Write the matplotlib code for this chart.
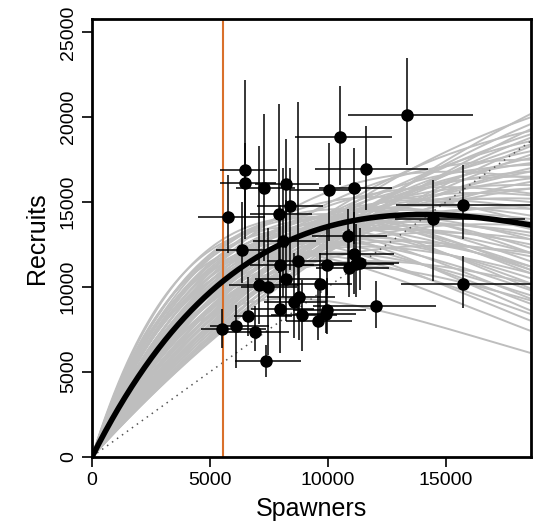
import numpy as np
import matplotlib
matplotlib.use('Agg')
import matplotlib.pyplot as plt

plt.rcParams['font.family'] = ['Liberation Sans', 'DejaVu Sans']

# observed spawners / recruits with interval ends
spawners = [5500, 5763, 6113, 6347, 6463, 6478, 6595, 6900, 7076, 7295,
            7368, 7456, 7908, 7981, 7981, 8083, 8200, 8200, 8390, 8565,
            8725, 8754, 8900, 9571, 9673, 9921, 9950, 9950, 10023, 10505,
            10826, 10899, 11118, 11118, 11190, 11350, 11600, 12040, 13335, 14430,
            15710, 15740]
recruits = [7540, 14140, 7675, 12180, 16880, 16150, 8300, 7320, 10120, 15840,
            5620, 9966, 14310, 8690, 11300, 12730, 16050, 10450, 14760, 9085,
            11530, 9380, 8360, 7970, 10200, 8380, 11300, 8654, 15740, 18840,
            13020, 11100, 15800, 11945, 11340, 11430, 16940, 8850, 20110, 14000,
            14840, 10200]
s_lo = [4620, 4480, 5000, 5250, 5400, 5400, 6010, 5570, 5790, 6100,
        6070, 6300, 6700, 6750, 6700, 6800, 6900, 6900, 7000, 7300,
        7400, 7400, 7600, 8200, 8300, 8600, 8500, 8500, 8400, 8600,
        9300, 9500, 9600, 9600, 9700, 9800, 9440, 9370, 10830, 12840,
        12870, 13100]
s_hi = [7350, 7330, 7500, 7620, 7830, 7800, 8490, 8345, 8780, 8600,
        8850, 8700, 9300, 9400, 9400, 9500, 9600, 9700, 9800, 9900,
        10100, 10300, 10400, 11000, 11000, 11200, 11500, 11600, 11400, 12720,
        12500, 12600, 12700, 12800, 12800, 13000, 14250, 14590, 16150, 18340,
        19000, 19000]
r_lo = [6370, 11980, 5250, 10220, 13400, 12800, 7100, 6200, 7800, 11500,
        4700, 6000, 10800, 6100, 8500, 9400, 12300, 8000, 11000, 7000,
        8200, 6900, 6200, 6900, 8100, 7300, 9500, 7200, 12700, 16000,
        10100, 9400, 12500, 9600, 9400, 9800, 14530, 7580, 17170, 10320,
        12800, 8750]
r_hi = [8720, 16580, 8950, 15020, 22200, 18500, 10600, 8850, 18300, 20200,
        6600, 13500, 20800, 11500, 14800, 17000, 18700, 15100, 17000, 12000,
        20900, 11200, 10400, 9900, 12000, 10300, 13500, 10500, 18500, 21870,
        14600, 13400, 18200, 14400, 13700, 13500, 19460, 10320, 23500, 16290,
        17210, 11830]

# posterior curves read as recruits at S=5535 and at S=18600
draw_r_left = [12800, 12600, 12400, 12200, 12000, 11900, 11800, 11600, 11500, 11400,
               11300, 11200, 11100, 11000, 10900, 10800, 10700, 10600, 10500, 10400,
               10300, 10200, 10100, 10000, 9900, 9800, 9700, 9600, 9500, 9400,
               9300, 9200, 9100, 9000, 8900, 8800, 8700, 8640, 8600, 8500,
               8400, 8300, 8200, 8100, 8000, 7900, 7800, 7700, 7600, 7500,
               7400, 9200, 10000, 11000, 8800, 9600, 12000, 10500, 9400, 11600,
               8800, 12300, 10800, 9900, 11300, 10200, 9000, 8300, 11700, 12500]
draw_r_right = [9900, 8600, 10800, 9300, 11500, 8000, 10200, 12300, 9000, 11000,
                7400, 12800, 9800, 13500, 10500, 8400, 12000, 14200, 11200, 9500,
                13000, 15000, 12500, 10800, 14000, 16000, 13200, 11800, 15200, 16800,
                12800, 14600, 17300, 15800, 13600, 18000, 16400, 6100, 14800, 17600,
                19000, 15800, 18400, 17000, 19600, 16200, 18800, 20200, 17800, 19300,
                18300, 10200, 16500, 15500, 12000, 9200, 13800, 17500, 19200, 16400,
                20000, 12000, 14600, 17200, 13400, 15400, 18600, 16800, 11200, 11000]

best_alpha = 2.77
best_smax = 14000
s_ref = 5535
s_end = 18600

fig, ax = plt.subplots(figsize=(5.39, 5.23), dpi=100)
fig.subplots_adjust(left=0.171, right=0.985, bottom=0.127, top=0.964)

S = np.linspace(0, s_end, 400)
for r1, r2 in zip(draw_r_left, draw_r_right):
    smax = (s_end - s_ref) / (np.log(s_end / s_ref) - np.log(r2 / r1))
    alpha = r1 / (s_ref * np.exp(-s_ref / smax))
    ax.plot(S, alpha * S * np.exp(-S / smax), color='#BEBEBE', lw=1.4, zorder=1)

ax.plot([0, s_end], [0, s_end], color='#555555', lw=1.1, ls=(0, (1, 3)), zorder=2)
ax.plot(S, best_alpha * S * np.exp(-S / best_smax), color='black', lw=4, zorder=3)
ax.axvline(s_ref, color='#D9702B', lw=1.5, zorder=2)

sp = np.array(spawners)
rc = np.array(recruits)
ax.hlines(rc, s_lo, s_hi, color='black', lw=1.1, zorder=4)
ax.vlines(sp, r_lo, r_hi, color='black', lw=1.1, zorder=4)
ax.plot(sp, rc, 'o', color='black', ms=8, zorder=5)

ax.set_xlim(0, s_end)
ax.set_ylim(0, 25800)
ax.set_xticks([0, 5000, 10000, 15000])
ax.set_yticks([0, 5000, 10000, 15000, 20000, 25000])
ax.tick_params(direction='out', length=7, width=1.2, labelsize=14, pad=4)
plt.setp(ax.get_yticklabels(), rotation=90, va='center')
for sp_ in ax.spines.values():
    sp_.set_linewidth(2)
ax.set_xlabel('Spawners', fontsize=18, labelpad=6)
ax.set_ylabel('Recruits', fontsize=18, labelpad=8)

plt.savefig('out.png', dpi=100)
plt.close()
